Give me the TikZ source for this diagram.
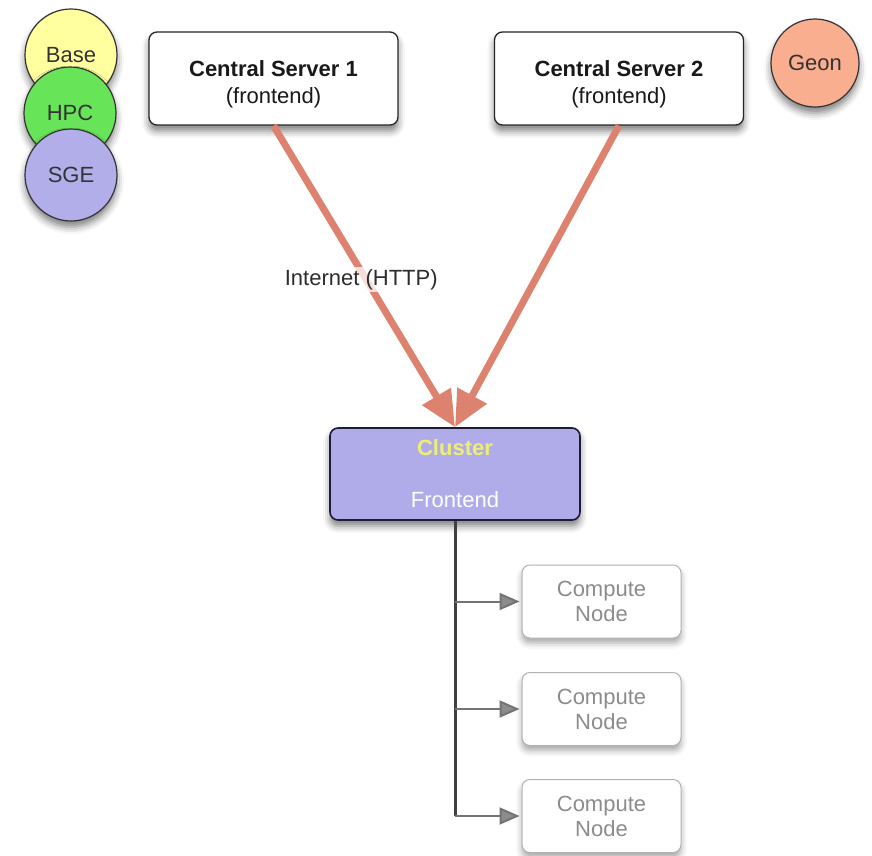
\documentclass[tikz,border=0pt]{standalone}
\usepackage{fontspec}
\setmainfont{Liberation Sans}
\usetikzlibrary{arrows.meta,shadows.blur}

\definecolor{linkred}{RGB}{222,130,112}
\definecolor{basefill}{RGB}{255,255,160}
\definecolor{hpcfill}{RGB}{104,228,88}
\definecolor{sgefill}{RGB}{178,174,234}
\definecolor{geonfill}{RGB}{250,174,144}
\definecolor{clusterfill}{RGB}{176,172,234}
\definecolor{clusterline}{RGB}{28,28,52}
\definecolor{clusteryellow}{RGB}{238,238,112}
\definecolor{labeltext}{RGB}{45,45,45}

\newcommand{\topstrut}{\rule{0pt}{27pt}}

\tikzset{
  softshadow/.style={blur shadow={shadow xshift=0pt, shadow yshift=-6pt,
      shadow blur radius=7pt, shadow opacity=50}},
  server/.style={draw=black!85, line width=1.3pt, rounded corners=8pt,
      fill=white, minimum width=249pt, minimum height=93pt, align=center,
      font=\fontsize{22}{27}\selectfont, text=black!90, softshadow},
  tag/.style={circle, draw=black!80, line width=1.2pt, minimum size=92pt,
      inner sep=0pt, font=\fontsize{22}{25}\selectfont, text=black!80,
      softshadow},
  clusterbox/.style={draw=clusterline, line width=1.6pt, rounded corners=8pt,
      fill=clusterfill, minimum width=250pt, minimum height=92pt,
      align=center, text=white, font=\fontsize{22}{26}\selectfont, softshadow},
  computebox/.style={draw=black!30, line width=1pt, rounded corners=8pt,
      fill=white, minimum width=159pt, minimum height=73pt, align=center,
      text=black!45, font=\fontsize{22}{25}\selectfont,
      blur shadow={shadow xshift=0pt, shadow yshift=-5pt,
      shadow blur radius=6pt, shadow opacity=35}},
  link/.style={draw=linkred, line width=7pt,
      -{Triangle[length=36pt,width=32pt]}},
  trunk/.style={draw=black!75, line width=3pt},
  branch/.style={draw=black!55, line width=2pt,
      -{Triangle[length=20pt,width=17pt,fill=black!45]}},
  netlabel/.style={fill=white, fill opacity=0.75, text opacity=1,
      text=labeltext, font=\fontsize{22}{25}\selectfont, inner sep=2pt}
}

\begin{document}
\begin{tikzpicture}[x=1pt,y=-1pt]
\useasboundingbox (0,0) rectangle (872,855);

% package tags, stacked on the left
\node[tag, fill=basefill] (base) at (71,55) {Base};
\node[tag, fill=hpcfill]  (hpc)  at (70,113) {HPC};
\node[tag, fill=sgefill]  (sge)  at (71,175) {SGE};
\node[tag, fill=geonfill, minimum size=88pt] (geon) at (815,63) {Geon};

% central servers
\node[server] (cs1) at (273.5,78.5) {\topstrut\textbf{Central Server 1}\\(frontend)};
\node[server] (cs2) at (619,78.5) {\topstrut\textbf{Central Server 2}\\(frontend)};

% cluster frontend
\node[clusterbox] (cluster) at (455,474)
  {{\color{clusteryellow}\bfseries Cluster}\\[26pt]Frontend};

% compute nodes
\node[computebox] (cn1) at (601.5,601.5) {Compute\\Node};
\node[computebox] (cn2) at (601.5,709) {Compute\\Node};
\node[computebox] (cn3) at (601.5,816) {Compute\\Node};

% internet links
\draw[link] (cs1.south) -- node[netlabel, pos=0.5, xshift=-3pt, yshift=-3pt] (net) {Internet (HTTP)} (cluster.north);
\draw[link] (cs2.south) -- (cluster.north);

% private network tree
\coordinate (j1) at (cluster.south |- cn1.west);
\coordinate (j2) at (cluster.south |- cn2.west);
\coordinate (j3) at (cluster.south |- cn3.west);
\draw[trunk] (cluster.south) -- (j3);
\draw[branch] (j1) -- ([xshift=-2pt]cn1.west);
\draw[branch] (j2) -- ([xshift=-2pt]cn2.west);
\draw[branch] (j3) -- ([xshift=-2pt]cn3.west);
\end{tikzpicture}
\end{document}
